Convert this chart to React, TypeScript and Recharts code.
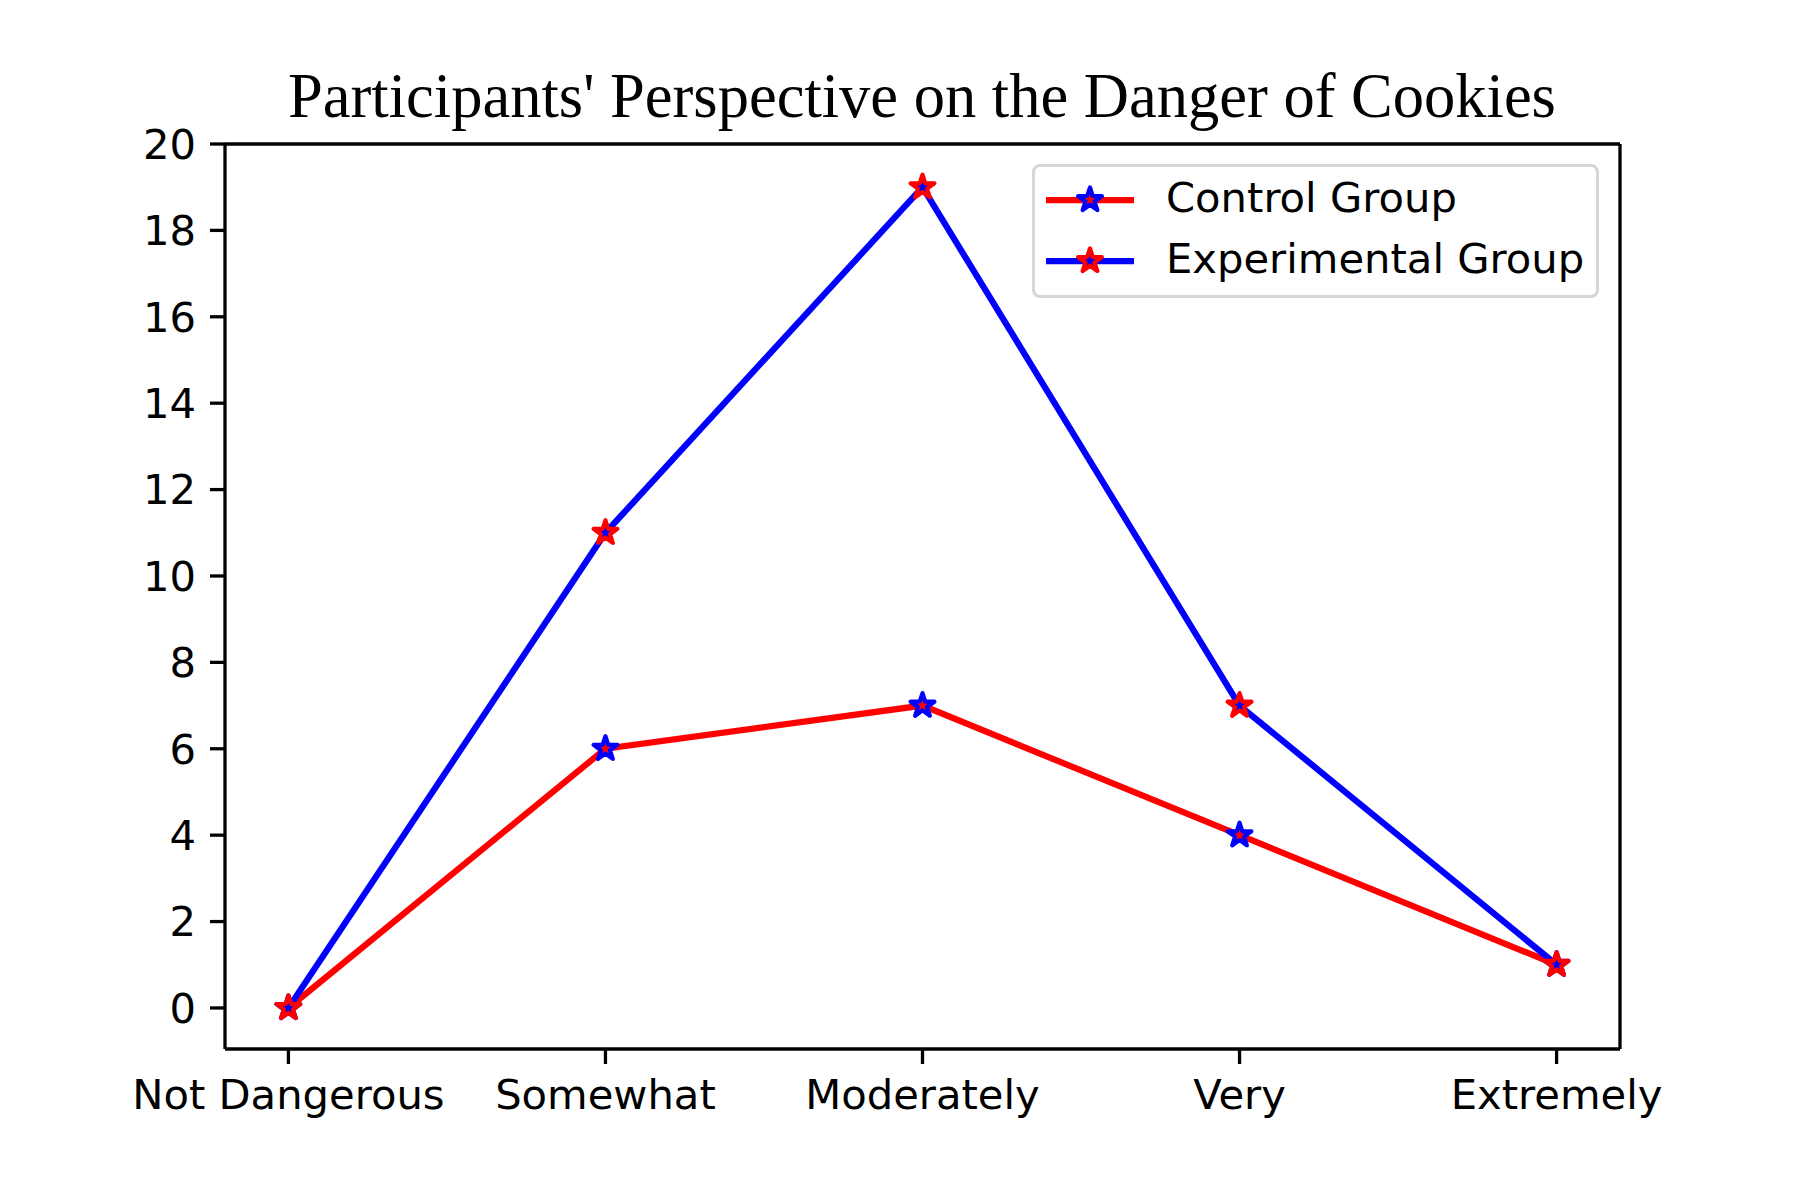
import { LineChart, Line, XAxis, YAxis, Legend, ReferenceLine } from 'recharts';

const categories = ['Not Dangerous', 'Somewhat', 'Moderately', 'Very', 'Extremely'];
const controlGroup = [0, 6, 7, 4, 1];
const experimentalGroup = [0, 11, 19, 7, 1];
const yTicks = [0, 2, 4, 6, 8, 10, 12, 14, 16, 18, 20];

const data = categories.map((name, i) => ({
  x: i,
  name,
  control: controlGroup[i],
  experimental: experimentalGroup[i],
}));

const TICK_FONT = { fontFamily: 'DejaVu Sans', fontSize: 41.7, fill: '#000' };

// matplotlib-style 5 point star
function starPath(cx: number, cy: number, r: number) {
  const inner = r * 0.381966;
  const pts: string[] = [];
  for (let k = 0; k < 10; k++) {
    const rad = k % 2 === 0 ? r : inner;
    const a = -Math.PI / 2 + (k * Math.PI) / 5;
    pts.push(`${(cx + rad * Math.cos(a)).toFixed(2)},${(cy + rad * Math.sin(a)).toFixed(2)}`);
  }
  return `M${pts.join('L')}Z`;
}

const Star = ({ cx, cy, face, edge }: { cx: number; cy: number; face: string; edge: string }) => (
  <path d={starPath(cx, cy, 12.5)} fill={face} stroke={edge} strokeWidth={4.2} strokeLinejoin="round" />
);

const legendItems = [
  { label: 'Control Group', line: '#ff0000', face: '#ff0000', edge: '#0000ff' },
  { label: 'Experimental Group', line: '#0000ff', face: '#0000ff', edge: '#ff0000' },
];

const LegendBox = () => (
  <div
    style={{
      width: 567,
      height: 134,
      boxSizing: 'border-box',
      border: '3px solid #d6d6d6',
      borderRadius: 8,
      background: '#fff',
      position: 'relative',
    }}
  >
    {legendItems.map((it, i) => (
      <div key={it.label} style={{ position: 'absolute', left: 0, top: 33 + i * 61 - 30, height: 60, width: '100%' }}>
        <svg width={120} height={60} style={{ position: 'absolute', left: 0, top: 0 }}>
          <line x1={11} x2={99} y1={30} y2={30} stroke={it.line} strokeWidth={6.25} />
          <Star cx={55} cy={30} face={it.face} edge={it.edge} />
        </svg>
        <span
          style={{
            position: 'absolute',
            left: 131,
            top: 30,
            transform: 'translateY(-55%)',
            fontFamily: 'DejaVu Sans',
            fontSize: 41.7,
            whiteSpace: 'nowrap',
            color: '#000',
          }}
        >
          {it.label}
        </span>
      </div>
    ))}
  </div>
);

export default function App() {
  return (
    <div style={{ margin: -8, position: 'relative', width: 1800, height: 1200, background: '#fff' }}>
      <div
        style={{
          position: 'absolute',
          left: 922,
          top: 118,
          transform: 'translate(-50%, -80%)',
          fontFamily: 'Liberation Serif',
          fontSize: 62.5,
          whiteSpace: 'nowrap',
          color: '#000',
        }}
      >
        Participants' Perspective on the Danger of Cookies
      </div>
      <LineChart width={1800} height={1200} data={data} margin={{ top: 144, right: 180, bottom: 91, left: 145 }}>
        <XAxis
          dataKey="x"
          type="number"
          domain={[-0.2, 4.2]}
          ticks={[0, 1, 2, 3, 4]}
          tickFormatter={(v: number) => categories[v]}
          allowDataOverflow
          height={60}
          tick={TICK_FONT}
          tickSize={15}
          tickMargin={15}
          axisLine={{ stroke: '#000', strokeWidth: 3.3 }}
          tickLine={{ stroke: '#000', strokeWidth: 3.3 }}
          interval={0}
        />
        <YAxis
          type="number"
          domain={[-0.95, 20]}
          ticks={yTicks}
          allowDataOverflow
          width={80}
          tick={TICK_FONT}
          tickSize={15}
          tickMargin={14}
          axisLine={{ stroke: '#000', strokeWidth: 3.3 }}
          tickLine={{ stroke: '#000', strokeWidth: 3.3 }}
          interval={0}
        />
        <ReferenceLine y={20} stroke="#000" strokeWidth={3.3} />
        <ReferenceLine x={4.2} stroke="#000" strokeWidth={3.3} />
        <Line
          dataKey="control"
          stroke="#ff0000"
          strokeWidth={6.25}
          isAnimationActive={false}
          dot={(p: any) => <Star key={`c-${p.index}`} cx={p.cx} cy={p.cy} face="#ff0000" edge="#0000ff" />}
          activeDot={false}
        />
        <Line
          dataKey="experimental"
          stroke="#0000ff"
          strokeWidth={6.25}
          isAnimationActive={false}
          dot={(p: any) => <Star key={`e-${p.index}`} cx={p.cx} cy={p.cy} face="#0000ff" edge="#ff0000" />}
          activeDot={false}
        />
        <Legend
          layout="horizontal"
          verticalAlign="middle"
          align="center"
          content={() => <LegendBox />}
          wrapperStyle={{ left: 1032, top: 164, width: 567, height: 134 }}
        />
      </LineChart>
    </div>
  );
}
